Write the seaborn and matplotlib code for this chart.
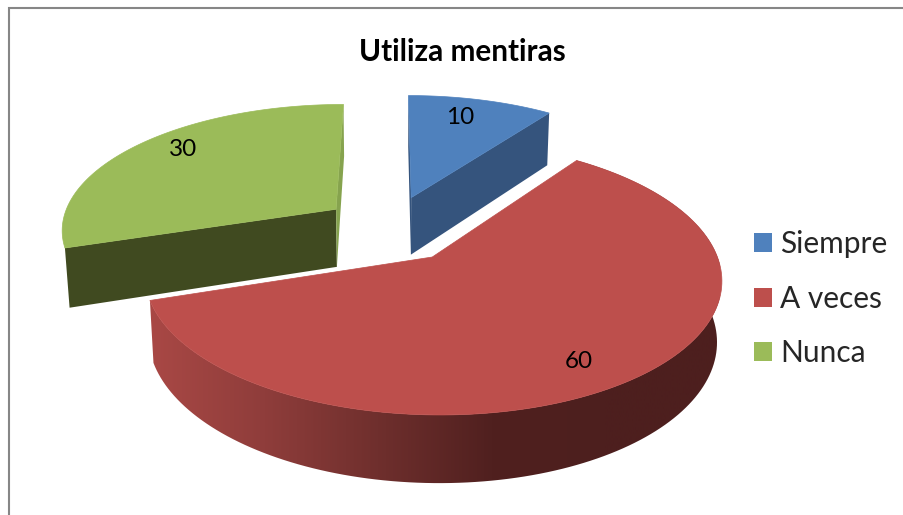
import numpy as np
import matplotlib
matplotlib.use('Agg')
import matplotlib.pyplot as plt
from matplotlib.patches import Patch
import seaborn as sns

# data
labels = ['Siempre', 'A veces', 'Nunca']
values = [10, 60, 30]
top_colors = ['#4f81bd', '#bd4f4c', '#9bbb59']
side_colors = ['#35547d', '#4d1f1e', '#404a20']
value_pos = [(460, 117), (579, 362), (183, 150)]
shift_x = [2, 0, 8]

# perspective of the pie
cx, cy = 387, 228.7
sx_scale, sy_scale = 276, 125.5
persp, persp_z = 0.147, 0.014
depth = 59.5
explode = 0.27

sns.set_theme(style='white')
plt.rcParams['font.family'] = ['Lato', 'DejaVu Sans']


def project(x, y, z=0.0):
    w = 1 + persp * y + persp_z * z
    return cx + sx_scale * x / w, cy + (-sy_scale * y + depth * z) / w


def rim(center, t, z=0.0):
    return project(center[0] + np.sin(t), center[1] + np.cos(t), z)


fig = plt.figure(figsize=(9.04, 5.15), dpi=100)
ax = fig.add_axes([0, 0, 1, 1])

total = sum(values)
ends = np.cumsum(values) / total * 2 * np.pi
starts = ends - np.array(values) / total * 2 * np.pi

# blue and green first, red lies in front of them
for i in [0, 2, 1]:
    t0, t1 = starts[i], ends[i]
    mid = (t0 + t1) / 2
    center = (explode * np.sin(mid), explode * np.cos(mid))
    arc = np.linspace(t0, t1, 150)
    dx = shift_x[i]

    # cut faces
    for t, col in [(t0, side_colors[i]), (t1, side_colors[i])]:
        if i == 2 and t == t1:
            col = '#86a34e'
        if i == 1:
            continue
        a = project(center[0], center[1])
        b = rim(center, t)
        c = rim(center, t, 1)
        d = project(center[0], center[1], 1)
        ax.fill(np.array([a[0], b[0], c[0], d[0]]) + dx, [a[1], b[1], c[1], d[1]], color=col, lw=0, zorder=2 + i)

    # shaded outer wall of the big slice
    if i == 1:
        xt, yt = rim(center, arc)
        xb, yb = rim(center, arc, 1)
        wall = ax.fill(np.r_[xt, xb[::-1]], np.r_[yt, yb[::-1]], color='none', lw=0, zorder=3)[0]
        cmap = sns.blend_palette(['#a94845', '#8f3d3b', '#6f2f2d', '#50201f', '#4d1f1e', '#4d1f1e'], as_cmap=True)
        img = ax.imshow(np.linspace(0, 1, 256)[None, :], extent=(150, 720, 515, 0), cmap=cmap,
                        aspect='auto', zorder=3)
        img.set_clip_path(wall)

    # top surface
    xt, yt = rim(center, arc)
    a = project(center[0], center[1])
    ax.fill(np.r_[a[0], xt] + dx, np.r_[a[1], yt], color=top_colors[i], lw=0.5, zorder=4 + i)

for v, (x, y) in zip(values, value_pos):
    ax.text(x, y, str(v), fontsize=17.5, color='black', ha='center', va='center', zorder=10)

ax.text(462.5, 52, 'Utiliza mentiras', fontsize=21.4, fontweight='bold', color='black',
        ha='center', va='center', zorder=10)

# chart frame, only the left and top edges fall inside the picture
ax.plot([9.5, 9.5, 904], [515, 8, 8], color='#868686', lw=1.5, zorder=1, solid_joinstyle='miter')

handles = [Patch(facecolor=c, edgecolor='none', label=l) for c, l in zip(top_colors, labels)]
fs = 21.5
fs_px = fs * 100 / 72
ax.legend(handles=handles, loc='upper left', bbox_to_anchor=(754, 230), bbox_transform=ax.transData,
          frameon=False, fontsize=fs, borderpad=0, borderaxespad=0,
          handlelength=18 / fs_px, handleheight=18 / fs_px, handletextpad=8 / fs_px,
          labelspacing=(56.5 - fs_px) / fs_px)

ax.set_xlim(0, 904)
ax.set_ylim(515, 0)
ax.axis('off')
fig.savefig('out.png', dpi=100)
